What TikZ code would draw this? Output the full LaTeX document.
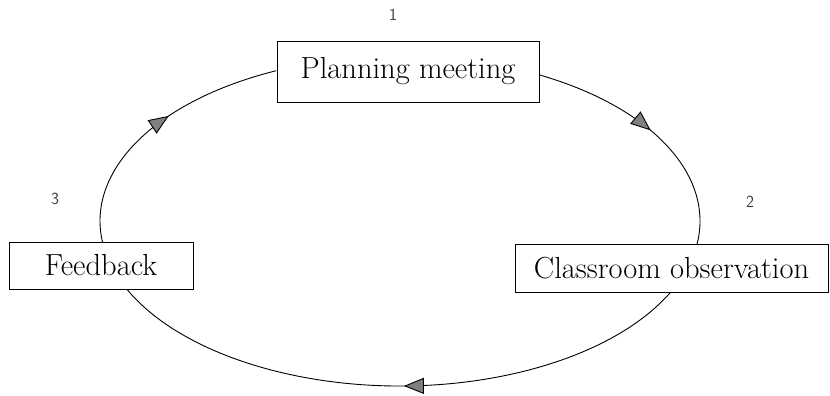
\documentclass[tikz,border=0pt]{standalone}
\usepackage{tikz}
\usetikzlibrary{positioning}
\usetikzlibrary{calc}
\usetikzlibrary{arrows.meta}
\usetikzlibrary{decorations.markings}
\pgfdeclarelayer{cyclebg}
\pgfsetlayers{cyclebg,main}

\begin{document}
\begin{tikzpicture}[x=1pt, y=1pt,
		stage/.style={draw, line width=0.8pt, fill=white, inner sep=0pt, font=\fontsize{30.5}{36}\selectfont},
		stepnum/.style={font=\sffamily\fontsize{17}{20}\selectfont, text=black!75},
		loopline/.style={line width=0.9pt, postaction={decorate}, decoration={markings, mark=at position #1 with {\arrow{Triangle[length=20pt, width=16pt, fill=gray]}}}}]
		\useasboundingbox (0,0) rectangle (830,396);
		\coordinate (hub) at (400,175);
		\node [stage, minimum width=262pt, minimum height=61pt] at (408,324.5) (planning) {Planning meeting};
		\node [stage, minimum width=313pt, minimum height=48pt] at (671.5,128) (observation) {Classroom observation};
		\node [stage, minimum width=184pt, minimum height=47pt] at (101,130.5) (feedback) {Feedback};
		\node [stepnum] at (393,381) (num1) {1};
		\node [stepnum] at (750,194) (num2) {2};
		\node [stepnum] at (55,197) (num3) {3};
		% the cycle runs behind the boxes
		\begin{pgfonlayer}{cyclebg}
		\draw [loopline=0.565] ($(hub)+(187.3:300 and 165)$) arc [start angle=187.3, end angle=114.4, x radius=300, y radius=165];
		\draw [loopline=0.49] ($(hub)+(62.2:300 and 165)$) arc [start angle=62.2, end angle=-8, x radius=300, y radius=165];
		\draw [loopline=0.49] ($(hub)+(-25.5:300 and 165)$) arc [start angle=-25.5, end angle=-155.7, x radius=300, y radius=165];
		\end{pgfonlayer}
		\end{tikzpicture}
\end{document}
